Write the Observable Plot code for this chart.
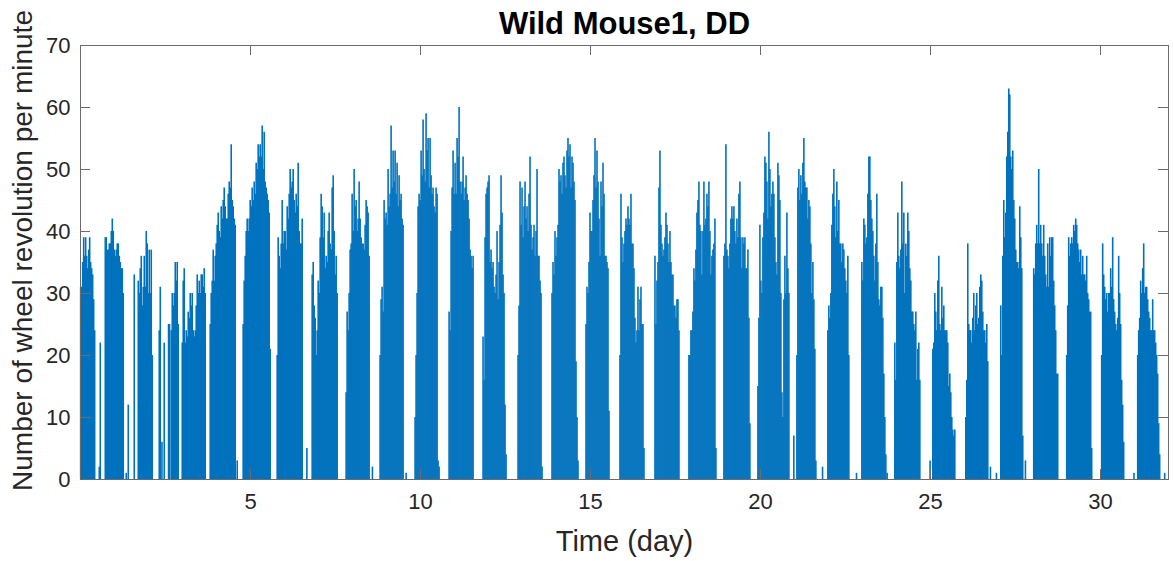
<!DOCTYPE html>
<html>
<head>
<meta charset="utf-8">
<script src="https://cdn.jsdelivr.net/npm/d3@7"></script>
<script src="https://cdn.jsdelivr.net/npm/@observablehq/plot@0.6"></script>
<style>
  html, body { margin: 0; padding: 0; background: #fff; }
  #chart svg { display: block; }
</style>
</head>
<body>
<div id="chart"></div>
<script>
// Wheel-running record of one wild mouse kept in constant darkness (DD).
// Each activity bout is stored as the peak count per ~42-minute bin.
const binDays = 0.0294;

// onset (day) of each bout
const boutStart = [0.005, 0.729, 1.699, 2.669, 2.992, 3.815, 4.785, 5.785, 6.814, 7.813,
  8.812, 9.841, 10.841, 11.840, 12.869, 13.868, 14.868, 15.867, 16.896, 17.895,
  18.924, 19.924, 21.070, 21.981, 22.981, 23.951, 25.068, 26.038, 27.067, 28.036,
  29.006, 30.035, 31.094];

// peak revolutions per minute in consecutive bins of each bout
const boutPeaks = [
  [31,31,35,39,36,39,36,34,37,39,35,34,33,29,24],
  [39,39,37,37,38,38,40,42,40,37,36,37,38,38,36,35,34,34,30],
  [32,30,34,36,28,31,36,31,40,38,30,37,30,37,20],
  [24,30,28,30,35,32,35,25],
  [22,32,34,22,24,23,27,26,30,28,30,24,23,24,28,33,30,32,30,33,33,31,34,30],
  [25,30,32,37,32,36,38,41,43,40,39,44,42,45,47,44,42,42,46,48,47,54,45,44,42,41],
  [25,32,36,40,42,40,42,45,44,47,45,48,46,51,50,54,52,54,52,57,50,56,48,47,46,45,43,21],
  [20,39,36,34,38,45,38,40,40,37,44,42,46,50,47,48,50,45,43,46,44,51,40,38,38,42],
  [33,35,28,26,20,24,32,30,39,46,44,39,43,34,36,35,40,43,38,37,47,49,40,33,36,30],
  [14,27,24,30,37,38,46,40,50,44,45,40,42,48,42,39,38,38,37,41,45,44,43,36],
  [20,29,31,27,45,42,43,41,50,44,46,57,47,53,48,53,46,51,44,49,45,46,42,41],
  [10,20,30,44,46,45,53,49,58,50,48,59,53,55,47,55,49,46,47,44,43,47,46,3,2],
  [27,24,40,47,53,46,51,46,55,52,60,48,46,48,52,45,47,49,46,45,42,37,36,34,36],
  [23,16,39,46,47,48,49,35,37,34,35,31,30,33,40,29,35,41,49,43,33,30,12,4],
  [20,28,48,41,47,39,44,48,42,44,40,46,52,41,37,39,41,36,40,50,36,36,32,30,2],
  [30,35,33,40,36,39,41,50,48,49,46,51,52,49,47,53,55,52,54,47,52,51,48,45,19,10,3],
  [25,31,30,35,43,40,40,45,49,55,47,53,48,42,36,48,44,51,46,36,36,35,34,11],
  [20,46,39,35,38,40,42,41,44,42,41,46,38,38,34,26,22,24,31,24,29,31,25,25,5],
  [36,25,32,35,47,53,41,38,36,37,39,43,41,38,35,40,35,33,33,28,28,26,29,29,24],
  [20,20,24,24,27,34,32,37,43,45,48,41,40,33,40,48,41,42,46,44,48,40,33,36,37,38,42,5],
  [36,38,54,37,36,34,38,42,44,42,44,40,38,42,39,46,48,39,34,39,38,39,34,34,37,26,9],
  [15,26,41,32,30,39,43,52,51,48,42,56,50,44,46,48,46,39,35,33,51,49,45,30,14,10,29,36,30,43,34,30],
  [20,47,50,45,49,46,51,55,48,47,47,42,45,44,38,30,35,29,21,3],
  [24,28,26,30,41,46,50,44,39,48,40,45,38,38,35,38,37,34,32,30,36,20],
  [35,32,42,41,38,39,46,52,52,45,42,40,36,32,38,46,35,29,28,31,31,26,17,10,4],
  [22,16,35,43,36,34,37,48,38,43,30,38,36,43,40,34,32,27,27,25,24,27,16,21,22,16],
  [21,22,30,27,24,32,36,25,24,31,26,28,24,24,24,22,15,17,14,10,8,7,8],
  [10,16,38,25,24,24,22,26,30,24,28,30,25,26,31,33,32,27,24,24,22,25,19],
  [28,20,36,45,39,43,52,56,63,62,52,50,53,45,42,37,35,35,34,44,39,34,7],
  [34,33,38,41,38,50,38,41,38,36,41,36,33,31,38,31,39,36,39,39,32,28,24,17,17],
  [20,28,39,36,38,39,38,41,40,42,41,38,37,35,37,33,36,33,33,32,36,30,29,27,27,5],
  [20,38,33,31,29,30,27,30,30,34,31,39,29,27,25,24,26,36,30,25,16,12,6],
  [20,24,26,32,30,34,38,30,31,31,29,27,26,24,24,29,24,24,22,20,17,9,4]
];

// isolated running events outside the main bouts
const strayDay = [0.553, 0.582, 1.346, 1.405, 1.581, 2.316, 2.346, 2.396, 2.463, 2.590, 2.619,
  4.609, 6.658, 8.586, 9.577, 20.980, 21.825, 22.824, 23.725, 24.988, 26.763, 26.939,
  27.792, 30.985, 31.888];
const strayCount = [2, 22, 1, 12, 33, 24, 31, 6, 22, 25, 25, 3, 5, 2, 1, 7, 2, 1, 1, 3, 2, 1, 3, 1, 1];

const xTicks = [5, 10, 15, 20, 25, 30];
const yTicks = [0, 10, 20, 30, 40, 50, 60, 70];

const titleText = "Wild Mouse1, DD";
const xLabel = "Time (day)";
const yLabel = "Number of wheel revolution per minute";

const rows = [];
boutStart.forEach((start, b) => {
  boutPeaks[b].forEach((count, i) => rows.push({day: start + i * binDays, count}));
});
strayDay.forEach((day, i) => rows.push({day, count: strayCount[i]}));

const W = 1173, H = 561;
const mL = 80, mR = 5, mT = 45, mB = 82;
const frameW = W - mL - mR, frameH = H - mT - mB;
const blue = "#0072BD";
const axisGray = "#6b6b6b";
const ink = "#262626";
const tickLen = 10;

const chart = Plot.plot({
  width: W,
  height: H,
  marginLeft: mL,
  marginRight: mR,
  marginTop: mT,
  marginBottom: mB,
  style: {fontFamily: "'Liberation Sans', Arial, Helvetica, sans-serif", background: "#fff", overflow: "visible"},
  x: {domain: [0, 32]},
  y: {domain: [0, 70]},
  marks: [
    Plot.ruleY([0], {stroke: blue, strokeWidth: 1}),
    Plot.ruleX(rows, {x: "day", y1: 0, y2: "count", stroke: blue, strokeWidth: 1.6}),
    Plot.frame({stroke: axisGray, strokeWidth: 1}),
    // inward ticks on all four sides
    Plot.tickX(xTicks, {x: d => d, insetBottom: frameH - tickLen, stroke: axisGray}),
    Plot.tickX(xTicks, {x: d => d, insetTop: frameH - tickLen, stroke: axisGray}),
    Plot.tickY(yTicks, {y: d => d, insetRight: frameW - tickLen, stroke: axisGray}),
    Plot.tickY(yTicks, {y: d => d, insetLeft: frameW - tickLen, stroke: axisGray}),
    Plot.axisX(xTicks, {tickSize: 0, tickPadding: 14, fontSize: 22, color: ink, label: null}),
    Plot.axisY(yTicks, {tickSize: 0, tickPadding: 10, fontSize: 22, color: ink, label: null}),
    Plot.text([titleText], {frameAnchor: "top", dy: -21, fontSize: 31, fontWeight: "bold", fill: "#000", textAnchor: "middle", lineAnchor: "middle"}),
    Plot.text([xLabel], {frameAnchor: "bottom", dy: 62, fontSize: 29, fill: ink, textAnchor: "middle", lineAnchor: "middle"}),
    Plot.text([yLabel], {frameAnchor: "left", dx: -57, dy: -12, rotate: -90, fontSize: 28, fill: ink, textAnchor: "middle", lineAnchor: "middle"})
  ]
});

document.getElementById("chart").appendChild(chart);
</script>
</body>
</html>
